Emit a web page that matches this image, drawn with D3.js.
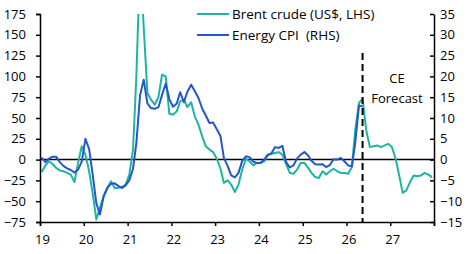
<!DOCTYPE html>
<html>
<head>
<meta charset="utf-8">
<script src="https://cdn.jsdelivr.net/npm/d3@7"></script>
<style>
  body { margin: 0; background: #fff; }
  text { font-family: "Open Sans", "Noto Sans", sans-serif; fill: #000; }
</style>
</head>
<body>
<svg width="471" height="254"></svg>
<script>
// monthly, Jan 2019 onwards (% y/y)
var brent = [-15,-7,-2,-5,-10,-13,-14,-16,-18,-27,
  -4,16,6,-14,-40,-72,-58,-44,-35,-26,
  -34,-34,-33,-30,-18,12,100,240,160,80,
  72,66,75,102,100,55,54,58,70,72,
  63,69,52,42,28,16,12,9,1,-11,
  -28,-25,-30,-39,-30,-12,1,-2,-7,-4,
  -4,-2,5,7,8,9,6,-5,-16,-17,
  -12,-4,-4,-10,-16,-21,-22,-14,-18,-14,
  -11,-14,-16,-16,-17,-9,36,68,73,35,
  15,16,17,15,17,19,15,1,-18,-40,
  -37,-27,-19,-20,-19,-16,-18,-21];
var energyCpi = [0.5,-0.6,0.2,0.7,0.7,-0.6,-1.5,-2.1,-2.5,-3.1,
  -2.4,-0.5,5,2.5,-3.5,-10.5,-13.2,-8.8,-6.8,-5.8,
  -5.7,-6.3,-6.8,-6.2,-5,-2.2,4,15.5,19.2,13.5,
  12.4,12.2,12.6,15.5,18.3,14.5,12.7,13.5,16.2,13.8,
  16.3,18,16.5,14.8,12.3,10.6,8.8,8.9,7.3,5.6,
  0.4,-1.5,-3.8,-4.3,-3.2,-0.3,0.8,0.6,-0.5,-0.8,
  -0.8,0,1.2,1.5,3,2.8,3.3,-0.6,-1.9,-1.4,
  0.3,1.2,1.8,1,-0.3,-1.1,-1.2,-1.1,-1.8,-1.3,
  0.1,0,0.4,-0.4,-1.4,-1.6,4,13,12.8];
var leftTicks = [-75,-50,-25,0,25,50,75,100,125,150,175];
var rightTicks = [-15,-10,-5,0,5,10,15,20,25,30,35];
var yearTicks = [2019,2020,2021,2022,2023,2024,2025,2026,2027,2028];
var seriesNames = ["Brent crude (US$, LHS)", "Energy CPI  (RHS)"];
var forecastStart = new Date(2026, 4, 15);

var teal = "#1db5a2", blue = "#2456cc";
var svg = d3.select("svg");

function monthDate(i) { return new Date(2019, i, 15); }

var x = d3.scaleTime().domain([new Date(2019, 0, 1), new Date(2028, 0, 1)]).range([40, 434]);
var yL = d3.scaleLinear().domain([-75, 175]).range([222, 14]);
var yR = d3.scaleLinear().domain([-15, 35]).range([222, 14]);

svg.append("clipPath").attr("id", "plot")
  .append("rect").attr("x", 40).attr("y", 14).attr("width", 394).attr("height", 208);

// zero line
svg.append("line")
  .attr("x1", 40).attr("x2", 434)
  .attr("y1", yL(0)).attr("y2", yL(0))
  .attr("stroke", "#000").attr("stroke-width", 1.5);

var lineL = d3.line().x((d, i) => x(monthDate(i))).y(d => yL(d));
var lineR = d3.line().x((d, i) => x(monthDate(i))).y(d => yR(d));

svg.append("path").datum(brent)
  .attr("clip-path", "url(#plot)")
  .attr("d", lineL).attr("fill", "none")
  .attr("stroke", teal).attr("stroke-width", 2).attr("stroke-linejoin", "round");

svg.append("path").datum(energyCpi)
  .attr("clip-path", "url(#plot)")
  .attr("d", lineR).attr("fill", "none")
  .attr("stroke", blue).attr("stroke-width", 2).attr("stroke-linejoin", "round");

// forecast marker
svg.append("line")
  .attr("x1", x(forecastStart)).attr("x2", x(forecastStart))
  .attr("y1", 53).attr("y2", 222)
  .attr("stroke", "#000").attr("stroke-width", 2).attr("stroke-dasharray", "7,4");
svg.append("text").attr("x", 397).attr("y", 83).attr("text-anchor", "middle")
  .style("font-size", "13px").text("CE");
svg.append("text").attr("x", 397).attr("y", 103).attr("text-anchor", "middle")
  .style("font-size", "13px").text("Forecast");

// axes
var gL = svg.append("g").attr("transform", "translate(40,0)")
  .call(d3.axisLeft(yL).tickValues(leftTicks).tickSize(4).tickPadding(10));
var gR = svg.append("g").attr("transform", "translate(434,0)")
  .call(d3.axisRight(yR).tickValues(rightTicks).tickSizeInner(-4).tickSizeOuter(0).tickPadding(6));
var gX = svg.append("g").attr("transform", "translate(0,222)")
  .call(d3.axisBottom(x).tickValues(yearTicks.map(y => new Date(y, 0, 1)))
    .tickSize(4).tickPadding(9)
    .tickFormat(d => d.getFullYear() < 2028 ? d3.timeFormat("%y")(d) : ""));

[gL, gR, gX].forEach(function(g) {
  g.select(".domain").attr("stroke", "#000").attr("stroke-width", 1.5);
  g.selectAll(".tick line").attr("stroke", "#000").attr("stroke-width", 1.5);
  g.selectAll("text").style("font-size", "13px").style("font-family", "'Open Sans', sans-serif");
});
gX.selectAll("text").attr("dx", 2);

// legend
var legend = svg.append("g");
[teal, blue].forEach(function(c, i) {
  var ly = 14 + i * 21;
  legend.append("line").attr("x1", 197).attr("x2", 229).attr("y1", ly).attr("y2", ly)
    .attr("stroke", c).attr("stroke-width", 2);
  legend.append("text").attr("x", 232).attr("y", ly + 5)
    .style("font-size", "13.5px").style("white-space", "pre").text(seriesNames[i]);
});
</script>
</body>
</html>
